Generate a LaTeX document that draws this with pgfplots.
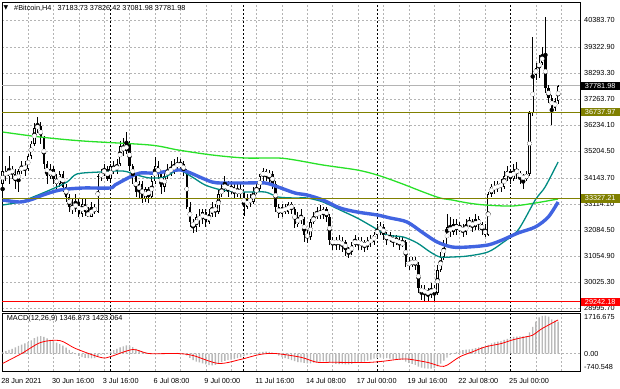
\documentclass[border=0pt]{standalone}
\usepackage{pgfplots}
\pgfplotsset{compat=1.18}
\usepackage{pgfplotstable}
\usepackage{fontspec}
\setmainfont{Liberation Sans}
\newfontfamily\dejavu{DejaVu Sans}
\definecolor{mlime}{RGB}{40,225,40}
\definecolor{mteal}{RGB}{0,139,130}
\definecolor{mblue}{RGB}{65,100,225}
\definecolor{molive}{RGB}{128,128,0}
\definecolor{mgrid}{RGB}{180,180,180}
\definecolor{mhist}{RGB}{185,185,185}
\newcommand{\lab}{\fontsize{7.3}{8}\selectfont}

\pgfplotstableread{
i o h l c
0 33900 34700 32700 34400
1 34400 34600 34000 34200
2 34200 35000 33900 34500
3 34500 34600 34100 34300
4 34300 34500 33700 34000
5 34000 34500 33600 34400
6 34400 34800 34300 34600
7 34600 34800 34200 34500
8 34500 35100 34400 35000
9 35000 35600 34900 35500
10 35500 36300 35400 36100
11 36100 36550 35900 36200
12 36200 36350 35500 35700
13 35700 35800 34500 34700
14 34700 34800 33900 34200
15 34200 34700 34100 34500
16 34500 34600 33900 34100
17 34100 34300 33700 33900
18 33900 34400 33800 34300
19 34300 34400 33600 33800
20 33800 33900 33200 33400
21 33400 33500 32800 33000
22 33000 33300 32700 32900
23 32900 33500 32800 33200
24 33200 33300 32600 32700
25 32700 33300 32600 33100
26 33100 33300 32650 32800
27 32800 33000 32580 32600
28 32600 33200 32600 33000
29 33000 33100 32700 32800
30 32800 34300 32750 34200
31 34200 34500 34000 34300
32 34300 34700 34200 34500
33 34500 34600 34000 34100
34 34100 34700 34000 34600
35 34600 34800 34300 34400
36 34400 34900 34300 34700
37 34700 35600 34600 35400
38 35400 35700 35000 35200
39 35200 35950 35100 35500
40 35500 35600 34400 34600
41 34600 34700 33900 34200
42 34200 34300 33400 33600
43 33600 34000 33300 33900
44 33900 34000 33150 33300
45 33300 33800 33200 33700
46 33700 33800 33150 33400
47 33400 34200 33300 34000
48 34000 34950 33900 34600
49 34600 34800 34100 34300
50 34300 34400 33500 33800
51 33800 34400 33600 34200
52 34200 34700 34100 34500
53 34500 34800 34200 34400
54 34400 34900 34300 34700
55 34700 34950 34400 34600
56 34600 34900 34500 34700
57 34700 34800 34200 34400
58 34400 34500 32900 33000
59 33000 33200 32200 32400
60 32400 32500 31950 32200
61 32200 32700 32000 32600
62 32600 32900 32200 32500
63 32500 32900 32300 32800
64 32800 32900 32200 32400
65 32400 32900 32300 32700
66 32700 33200 32600 33000
67 33000 33100 32600 32800
68 32800 33700 32700 33500
69 33500 33900 33400 33700
70 33700 34200 33600 33900
71 33900 34000 33400 33600
72 33600 34000 33500 33800
73 33800 33900 33300 33500
74 33500 33900 33400 33700
75 33700 33900 33300 33500
76 33500 33600 32650 33000
77 33000 33500 32900 33300
78 33300 33500 33000 33200
79 33200 33800 33100 33600
80 33600 33900 33500 33700
81 33700 34300 33600 34200
82 34200 34550 34000 34400
83 34400 34500 34000 34200
84 34200 34450 33900 34300
85 34300 34400 33700 33900
86 33900 34000 32800 33000
87 33000 33100 32550 32700
88 32700 33100 32600 33000
89 33000 33100 32700 32800
90 32800 33200 32700 33100
91 33100 33200 32700 32900
92 32900 33000 32150 32300
93 32300 32800 32200 32600
94 32600 32900 32300 32500
95 32500 32600 31600 31900
96 31900 32100 31550 31800
97 31800 32500 31700 32400
98 32400 32800 32300 32600
99 32600 33000 32500 32800
100 32800 33050 32500 32700
101 32700 33000 32500 32900
102 32900 33000 32400 32600
103 32600 32700 31500 31700
104 31700 31800 31300 31500
105 31500 31800 31300 31700
106 31700 31900 31300 31500
107 31500 31800 31200 31600
108 31600 31700 31050 31300
109 31300 31400 30970 31200
110 31200 31600 31100 31500
111 31500 31900 31400 31700
112 31700 31800 31300 31500
113 31500 31800 31300 31600
114 31600 31700 31200 31400
115 31400 31800 31300 31700
116 31700 31900 31400 31600
117 31600 32000 31500 31900
118 31900 32300 31800 32100
119 32100 32400 31900 32200
120 32200 32300 31700 31900
121 31900 32000 31500 31700
122 31700 32000 31600 31800
123 31800 31900 31400 31600
124 31600 31900 31500 31700
125 31700 31800 31300 31500
126 31500 31800 31400 31600
127 31600 31700 30600 30800
128 30800 31000 30500 30700
129 30700 31000 30600 30900
130 30900 31000 30500 30700
131 30700 30800 29600 29800
132 29800 29900 29300 29600
133 29600 29900 29260 29700
134 29700 29800 29250 29500
135 29500 30000 29400 29800
136 29800 29900 29242.18 29600
137 29600 30700 29500 30500
138 30500 31200 30400 31000
139 31000 31700 30900 31500
140 31500 32700 31400 32200
141 32200 32600 31800 32000
142 32000 32500 31900 32300
143 32300 32500 31900 32100
144 32100 32400 32000 32200
145 32200 32300 31800 32000
146 32000 32500 31900 32300
147 32300 32600 32200 32400
148 32400 32500 32000 32200
149 32200 32700 32100 32500
150 32500 32650 32100 32300
151 32300 32400 31900 32100
152 32100 32300 31800 31900
153 31900 33600 31850 33500
154 33500 33900 33400 33800
155 33800 34000 33500 33700
156 33700 34000 33600 33900
157 33900 34100 33600 33800
158 33800 34400 33700 34200
159 34200 34600 34000 34400
160 34400 34500 33900 34100
161 34100 34700 34000 34500
162 34500 34750 34100 34300
163 34300 34400 33900 34200
164 34200 34300 33700 34100
165 34100 34400 34000 34300
166 34300 36800 34200 36700
167 36700 39700 36600 38200
168 38200 38700 38000 38500
169 38500 39000 38100 38700
170 38700 39300 38600 39000
171 39000 40500 37500 37700
172 37700 37800 37100 37300
173 37300 37400 36250 36900
174 36900 37300 36800 37183.73
175 37183.73 37826.42 37081.98 37781.98
}\candles

\pgfplotstableread{
x y
0 35955
11.8 35757
25.3 35599
46.4 35441
55.3 35243
66 35046
76.4 34927
86.8 34927
92.1 34848
100.9 34650
111.7 34453
118 34255
125.2 33939
132.5 33583
137.8 33346
141.6 33267
146.6 33148
152 33069
160.5 33029
167.8 33148
175 33306
}\malime

\pgfplotstableread{
x y
0 33069
5.5 33188
9.6 33385
14.9 33662
20.3 33978
23.4 34295
30.7 34374
37.9 34413
42.3 34255
46.4 34137
51.2 34176
55.3 34453
59.7 34176
63.8 33860
69.1 33662
76.4 33583
82.7 33583
86.8 33385
92.1 33346
95.9 33346
100.9 33188
106.3 32871
111.7 32555
116.7 32199
121.1 31883
126.2 31804
130.6 31567
134.7 31211
137.8 31013
141.6 31013
146.6 31053
152.9 31211
157.4 31567
162.4 32080
167.8 33267
170.9 33780
175 34769
}\mateal

\pgfplotstableread{
x y
0 33267
5.5 33188
9.6 33306
12.7 33464
18.1 33662
25.3 33741
33.8 33741
35.4 33860
40.1 34176
43.3 34334
48 34334
55.3 34453
58.4 34374
66 33978
71 33939
76.4 33939
82.7 33939
86.8 33780
92.1 33543
95.9 33464
100.9 33267
106.3 32950
111.7 32792
118 32673
122.1 32555
127.4 32397
132.5 31962
136.9 31606
141.6 31408
146.6 31408
152.9 31488
157.4 31685
162.4 31962
167.8 32199
171.9 32594
175 33188
}\mablue

\pgfplotstableread{
i m
0 50
1 100
2 150
3 200
4 260
5 320
6 380
7 430
8 480
9 560
10 650
11 720
12 740
13 700
14 640
15 580
16 520
17 460
18 400
19 330
20 250
21 150
22 60
23 -30
24 -100
25 -150
26 -180
27 -200
28 -210
29 -200
30 -120
31 -60
32 -10
33 30
34 80
35 140
36 200
37 260
38 300
39 340
40 330
41 270
42 200
43 140
44 80
45 40
46 10
47 0
48 20
49 10
50 -20
51 -30
52 -20
53 0
54 20
55 30
56 20
57 0
58 -80
59 -180
60 -280
61 -340
62 -380
63 -420
64 -460
65 -490
66 -500
67 -480
68 -420
69 -360
70 -310
71 -280
72 -260
73 -230
74 -200
75 -160
76 -110
77 -70
78 -40
79 -10
80 20
81 50
82 70
83 80
84 70
85 40
86 -20
87 -90
88 -150
89 -190
90 -230
91 -280
92 -320
93 -360
94 -380
95 -400
96 -420
97 -420
98 -390
99 -360
100 -340
101 -330
102 -340
103 -380
104 -420
105 -440
106 -450
107 -450
108 -460
109 -460
110 -440
111 -410
112 -390
113 -370
114 -340
115 -300
116 -260
117 -220
118 -190
119 -170
120 -180
121 -200
122 -220
123 -240
124 -250
125 -260
126 -270
127 -340
128 -400
129 -440
130 -480
131 -560
132 -600
133 -630
134 -640
135 -640
136 -620
137 -540
138 -430
139 -300
140 -170
141 -60
142 10
143 70
144 110
145 140
146 160
147 180
148 200
149 230
150 260
151 280
152 280
153 370
154 430
155 470
156 500
157 530
158 580
159 620
160 660
161 700
162 720
163 730
164 730
165 740
166 900
167 1130
168 1350
169 1530
170 1600
171 1610
172 1560
173 1450
174 1390
175 1346.873
}\macdh

\pgfplotstableread{
x y
0 -420
6 0
12 470
18 550
23 210
31 -170
34 -130
41 170
46 0
55 0
60 -85
68 -420
75 -250
81 -40
86 0
94 -160
99 -370
104 -370
109 -380
115 -380
120 -325
125 -240
128 -240
134 -380
138 -540
140 -495
144 -140
148 70
152 280
157 420
161 590
165 710
167 780
170 1060
175 1423.064
}\macds

\pgfplotsset{
  mtframe/.style={
    scale only axis, anchor=south west, width=578pt,
    xmin=-0.2, xmax=181.9,
    axis line style={black, line width=0.8pt},
    xtick={0,8,...,176}, xticklabels={},
    yticklabels={},
    xmajorgrids=true, ymajorgrids=true,
    major grid style={mgrid, dash pattern=on 2pt off 2pt, line width=0.5pt},
    major tick length=0pt,
    extra x ticks={34,76,118,160}, extra x tick labels={},
    extra x tick style={xmajorgrids=true, major grid style={black, dash pattern=on 2pt off 2pt, line width=0.9pt}},
    clip=false,
  },
  ebar/.style n args={2}{only marks, mark=none, error bars/.cd, y dir=both, y explicit, error mark=none, error bar style={line width=#1, #2}},
}
\tikzset{
  tlab/.style={anchor=base west, font=\lab, inner sep=0pt, xshift=-1.5pt, yshift=-12pt},
  rlab/.style={anchor=west, font=\lab, inner sep=0pt, xshift=4pt},
  blab/.style={anchor=west, text=white, font=\lab, inner xsep=3pt, inner ysep=0pt, minimum height=8.5pt, minimum width=39pt, xshift=0.5pt},
}

\begin{document}
\begin{tikzpicture}
\useasboundingbox (0,0) rectangle (620pt,388pt);
% ---------------- main price panel ----------------
\begin{axis}[mtframe, at={(2pt,77pt)}, height=309pt,
  ymin=28877.6, ymax=41095.4,
  ytick={40383.7,39322.9,38293.3,37263.7,36234.1,35204.5,34143.7,33114.1,32084.5,31054.9,30025.3,28995.7}]
\addplot[mgrid, line width=0.6pt] coordinates {(-0.2,37781.98) (181.9,37781.98)};
% wicks
\addplot[black, ebar={0.7pt}{black}] table[x=i, y expr={(\thisrow{h}+\thisrow{l})/2}, y error expr={(\thisrow{h}-\thisrow{l})/2}] {\candles};
% bodies
\addplot[black, ebar={2.3pt}{black}] table[x=i, y expr={(\thisrow{o}+\thisrow{c})/2}, y error expr={max(abs(\thisrow{c}-\thisrow{o})/2,20)}] {\candles};
\addplot[white, ebar={0.9pt}{white}] table[x=i, y expr={(\thisrow{o}+\thisrow{c})/2}, y error expr={max((\thisrow{c}-\thisrow{o})/2-35,0)}] {\candles};
% moving averages
\addplot[mlime, line width=1.3pt, smooth] table {\malime};
\addplot[mteal, line width=1.3pt, smooth] table {\mateal};
\addplot[mblue, line width=3.4pt, smooth] table {\mablue};
% levels
\addplot[molive, line width=1.4pt] coordinates {(-0.2,36737.97) (181.9,36737.97)};
\addplot[molive, line width=1.4pt] coordinates {(-0.2,33327.21) (181.9,33327.21)};
\addplot[red, line width=1.4pt] coordinates {(-0.2,29242.18) (181.9,29242.18)};
% price labels
\node[rlab] at (axis cs:181.9,40383.70) {40383.70};
\node[rlab] at (axis cs:181.9,39322.90) {39322.90};
\node[rlab] at (axis cs:181.9,38293.30) {38293.30};
\node[rlab] at (axis cs:181.9,37263.70) {37263.70};
\node[rlab] at (axis cs:181.9,36234.10) {36234.10};
\node[rlab] at (axis cs:181.9,35204.50) {35204.50};
\node[rlab] at (axis cs:181.9,34143.70) {34143.70};
\node[rlab] at (axis cs:181.9,33114.10) {33114.10};
\node[rlab] at (axis cs:181.9,32084.50) {32084.50};
\node[rlab] at (axis cs:181.9,31054.90) {31054.90};
\node[rlab] at (axis cs:181.9,30025.30) {30025.30};
\node[rlab] at (axis cs:181.9,28995.70) {28995.70};
\node[blab, fill=black] at (axis cs:181.9,37781.98) {37781.98};
\node[blab, fill=molive] at (axis cs:181.9,36737.97) {36737.97};
\node[blab, fill=molive] at (axis cs:181.9,33327.21) {33327.21};
\node[blab, fill=red] at (axis cs:181.9,29242.18) {29242.18};
\end{axis}
% ---------------- MACD panel ----------------
\begin{axis}[mtframe, at={(2pt,17pt)}, height=58pt,
  ymin=-740.548, ymax=1716.675, ytick={0}]
\addplot[ybar, bar width=1.4pt, fill=mhist, draw=none] table[x=i, y=m] {\macdh};
\addplot[red, line width=0.8pt, smooth] table {\macds};
\node[rlab, yshift=-4pt] at (axis cs:181.9,1716.675) {1716.675};
\node[rlab] at (axis cs:181.9,0) {0.00};
\node[rlab, yshift=4.5pt] at (axis cs:181.9,-740.548) {-740.548};
\node[rlab, yshift=-6pt] at (axis cs:0,1716.675) {MACD(12,26,9) 1346.873 1423.064};
\node[tlab] at (axis cs:0,-740.548) {28 Jun 2021};
\node[tlab] at (axis cs:16,-740.548) {30 Jun 16:00};
\node[tlab] at (axis cs:32,-740.548) {3 Jul 16:00};
\node[tlab] at (axis cs:48,-740.548) {6 Jul 08:00};
\node[tlab] at (axis cs:64,-740.548) {9 Jul 00:00};
\node[tlab] at (axis cs:80,-740.548) {11 Jul 16:00};
\node[tlab] at (axis cs:96,-740.548) {14 Jul 08:00};
\node[tlab] at (axis cs:112,-740.548) {17 Jul 00:00};
\node[tlab] at (axis cs:128,-740.548) {19 Jul 16:00};
\node[tlab] at (axis cs:144,-740.548) {22 Jul 08:00};
\node[tlab] at (axis cs:160,-740.548) {25 Jul 00:00};
\end{axis}
% header
\node[font=\dejavu\fontsize{6}{6}\selectfont, inner sep=0pt] at (6pt,380pt) {▼};
\node[anchor=west, font=\lab, inner sep=0pt] at (14pt,380pt) {\#Bitcoin,H4\hspace{6pt}37183.73 37826.42 37081.98 37781.98};
\end{tikzpicture}
\end{document}
